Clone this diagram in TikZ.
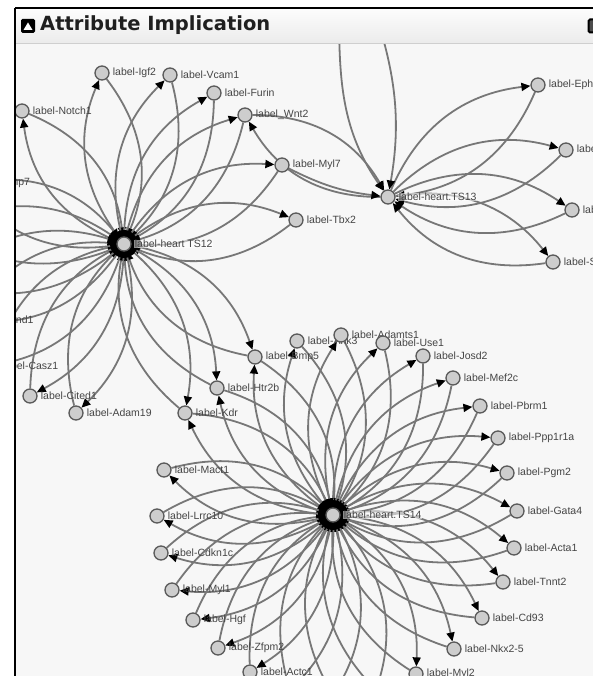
\documentclass[tikz,border=0pt]{standalone}
\usepackage{fontspec}
\setmainfont{Liberation Sans}
\newfontfamily\titlefont{DejaVu Sans}
\usetikzlibrary{arrows.meta}
\pgfdeclarelayer{bgl}\pgfdeclarelayer{edgel}\pgfdeclarelayer{topl}
\pgfsetlayers{bgl,edgel,main,topl}
\definecolor{edgec}{HTML}{777777}
\definecolor{nodefill}{HTML}{CDCDCD}
\definecolor{nodedraw}{HTML}{5A5A5A}
\definecolor{lblc}{HTML}{454545}
\definecolor{panel}{HTML}{F7F7F7}
\definecolor{barTop}{HTML}{FDFDFD}
\definecolor{barBot}{HTML}{EBEBEB}
\definecolor{sepc}{HTML}{CFCFCF}
\tikzset{
 leaf/.style={circle, draw=nodedraw, fill=nodefill, line width=1.3pt, minimum size=14pt, inner sep=0pt},
 lbl/.style={anchor=west, inner sep=0.5pt, text=lblc, font=\fontsize{10.5}{11}\selectfont},
 hublbl/.style={lbl, fill=white, fill opacity=0.55, text opacity=1},
 edge/.style={draw=edgec, line width=1.8pt, -{Triangle[length=9pt,width=8pt,color=black]}},
 blob/.style={fill=black},
}
\newcommand\mkleaf[4]{\node[leaf] (#1) at (#2,-#3) {}; \node[lbl] (#1-t) at ([xshift=2.5pt]#1.east) {#4};}
\newcommand\mkhub[4]{\node[leaf] (#1) at (#2,-#3) {}; \node[hublbl] (#1-t) at ([xshift=2.5pt]#1.east) {#4};}
\newcommand\lens[3]{\draw[edge] (#1) to[bend left=#3] (#2); \draw[edge] (#2) to[bend left=#3] (#1);}
\begin{document}
\begin{tikzpicture}[x=1pt,y=1pt]
\useasboundingbox (0,0) rectangle (593,-676);
\begin{pgfonlayer}{bgl}
\fill[white] (-10,10) rectangle (603,-686);
\fill[panel] (15,-8) rectangle (600,-686);
\end{pgfonlayer}
% hubs
\mkhub{h12}{124}{244}{label-heart TS12}
\mkhub{h13}{388}{197}{label-heart.TS13}
\mkhub{h14}{333}{515}{label-heart.TS14}
% TS12 leaves
\mkleaf{notch}{22}{111}{label-Notch1}
\mkleaf{igf2}{102}{73}{label-Igf2}
\mkleaf{vcam}{170}{75}{label-Vcam1}
\mkleaf{furin}{214}{93}{label-Furin}
\mkleaf{wnt2}{245}{115}{label\_Wnt2}
\mkleaf{myl7}{282}{165}{label-Myl7}
\mkleaf{tbx2}{296}{220}{label-Tbx2}
\mkleaf{bmp5}{255}{357}{label-Bmp5}
\mkleaf{htr2b}{217}{388}{label-Htr2b}
\mkleaf{kdr}{185}{413}{label-Kdr}
\mkleaf{adam}{76}{413}{label-Adam19}
\mkleaf{cited}{30}{396}{label-Cited1}
\mkleaf{casz}{-8}{366}{label-Casz1}
\mkleaf{hand}{-34}{320}{label-Hand1}
\mkleaf{bmp7}{-34}{183}{label-Bmp7}
\coordinate (x1) at (-58,-280);
\coordinate (x2) at (-58,-226);
% TS13 leaves
\mkleaf{eph}{538}{85}{label-Ephb4}
\mkleaf{hey}{566}{150}{label-Hey2}
\mkleaf{tbxb}{572}{210}{label-Tbx20}
\mkleaf{sox}{553}{262}{label-Sox4}
\coordinate (topA) at (338,40);
\coordinate (topB) at (357,40);
% TS14 leaves
\mkleaf{ank3}{297}{341}{label-Ank3}
\mkleaf{adamts}{341}{335}{label-Adamts1}
\mkleaf{use1}{383}{343}{label-Use1}
\mkleaf{josd}{423}{356}{label-Josd2}
\mkleaf{mef}{453}{378}{label-Mef2c}
\mkleaf{pbrm}{480}{406}{label-Pbrm1}
\mkleaf{ppp}{498}{438}{label-Ppp1r1a}
\mkleaf{pgm}{507}{473}{label-Pgm2}
\mkleaf{gata}{517}{511}{label-Gata4}
\mkleaf{acta}{514}{548}{label-Acta1}
\mkleaf{tnnt}{503}{582}{label-Tnnt2}
\mkleaf{cd93}{482}{618}{label-Cd93}
\mkleaf{nkx}{454}{649}{label-Nkx2-5}
\mkleaf{myl2}{416}{674}{label-Myl2}
\coordinate (b1) at (376,-690);
\coordinate (b2) at (333,-695);
\coordinate (b3) at (290,-690);
\mkleaf{actc}{250}{672}{label-Actc1}
\mkleaf{zfpm}{218}{648}{label-Zfpm2}
\mkleaf{hgf}{193}{620}{label-Hgf}
\mkleaf{myl1}{172}{590}{label-Myl1}
\mkleaf{cdkn}{161}{553}{label-Cdkn1c}
\mkleaf{lrrc}{157}{516}{label-Lrrc10}
\mkleaf{mact}{164}{470}{label-Mact1}
\begin{pgfonlayer}{edgel}
\foreach \l in {notch,igf2,vcam,furin,wnt2,myl7,tbx2,bmp5,htr2b,kdr,adam,cited,casz,hand,x1,x2,bmp7}{\lens{h12}{\l}{30}}
\foreach \l in {eph,hey,tbxb,sox,wnt2}{\lens{h13}{\l}{30}}
\draw[edge] (myl7) to[bend right=10] (h13);
\draw[edge] (topA) to[out=-88,in=125] (h13);
\draw[edge] (topB) to[out=-70,in=80] (h13);
\foreach \l in {bmp5,ank3,adamts,use1,josd,mef,pbrm,ppp,pgm,gata,acta,tnnt,cd93,nkx,myl2,b1,b2,b3,actc,zfpm,hgf,myl1,cdkn,lrrc,mact,kdr,htr2b}{\lens{h14}{\l}{30}}
\fill[blob] (h12) circle (14);
\fill[blob] (h14) circle (15);
\end{pgfonlayer}
\begin{pgfonlayer}{topl}
\fill[white] (-20,20) rectangle (15,-690);
\fill[white] (-20,20) rectangle (610,-8);
\shade[top color=barTop, bottom color=barBot] (15,-8) rectangle (610,-43);
\draw[sepc, line width=1pt] (15,-43.5) -- (610,-43.5);
\draw[black, line width=1.6pt] (15,-8) -- (610,-8);
\draw[black, line width=2pt] (15,-8) -- (15,-690);
\node[fill=black, rounded corners=1.5pt, minimum size=14pt, inner sep=0pt] (icon) at (28,-26) {};
\fill[white] (23.5,-30) -- (32.5,-30) -- (28,-22.5) -- cycle;
\node[draw=black, fill=black!70, line width=2pt, rounded corners=1.5pt, minimum size=13pt, inner sep=0pt] (icon2) at (595,-26) {};
\node[anchor=base west, inner sep=0pt, text=black!88, font=\titlefont\bfseries\fontsize{19.5}{20}\selectfont] (title) at (40,-31) {Attribute Implication};
\end{pgfonlayer}
\end{tikzpicture}
\end{document}
